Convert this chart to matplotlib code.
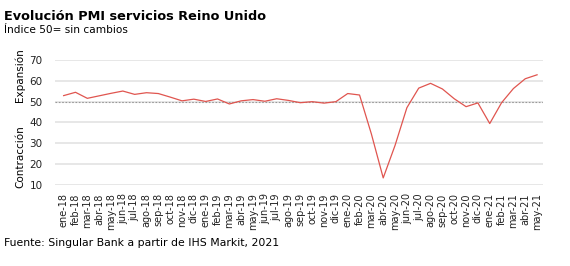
import matplotlib.pyplot as plt

# PMI servicios Reino Unido, ene-18 a may-21
months = ['ene', 'feb', 'mar', 'abr', 'may', 'jun', 'jul', 'ago', 'sep', 'oct', 'nov', 'dic']
labels = [f'{m}-{y}' for y in ['18', '19', '20', '21'] for m in months][:41]
pmi = [52.9, 54.5, 51.6, 52.8, 54.0, 55.1, 53.5, 54.3, 53.9, 52.2, 50.4, 51.2,
       50.1, 51.3, 48.9, 50.4, 51.0, 50.2, 51.4, 50.6, 49.5, 50.0, 49.3, 50.0,
       53.9, 53.2, 34.5, 13.4, 29.0, 47.1, 56.5, 58.8, 56.1, 51.4, 47.6, 49.4,
       39.5, 49.5, 56.3, 61.0, 62.9]

plt.rcParams['font.family'] = ['DejaVu Sans']

fig = plt.figure(figsize=(5.7, 2.66), dpi=100)
ax = fig.add_axes([55 / 570, 1 - 185 / 266, 488 / 570, 125 / 266])

x = list(range(len(pmi)))
ax.plot(x, pmi, color='#e0554f', lw=0.9, zorder=3)
ax.axhline(50, color='#999999', lw=0.8, ls=(0, (1.5, 1.5)), zorder=2)

ax.set_xlim(-0.73, 40.5)
ax.set_ylim(10, 70)
ax.set_yticks(range(10, 71, 10))
ax.grid(axis='y', color='#e3e3e3', lw=1.2)
ax.set_axisbelow(True)
ax.set_xticks(x)
ax.set_xticklabels(labels, rotation=90, fontsize=7)
ax.tick_params(axis='y', labelsize=7.5, length=0, pad=9, colors='#222222')
ax.tick_params(axis='x', length=0, pad=6, colors='#222222')
for s in ax.spines.values():
    s.set_visible(False)

fig.text(4 / 570, 1 - 16 / 266, 'Evolución PMI servicios Reino Unido', fontsize=9.3,
         fontweight='bold', va='center')
fig.text(4 / 570, 1 - 30 / 266, 'Índice 50= sin cambios', fontsize=7.6, va='center')
fig.text(20 / 570, 1 - 75 / 266, 'Expansión', rotation=90, fontsize=7.5, ha='center', va='center')
fig.text(20 / 570, 1 - 157 / 266, 'Contracción', rotation=90, fontsize=7.5, ha='center', va='center')
fig.text(4 / 570, 1 - 243 / 266, 'Fuente: Singular Bank a partir de IHS Markit, 2021', fontsize=7.8,
         va='center')

fig.savefig('out.png', dpi=100)
